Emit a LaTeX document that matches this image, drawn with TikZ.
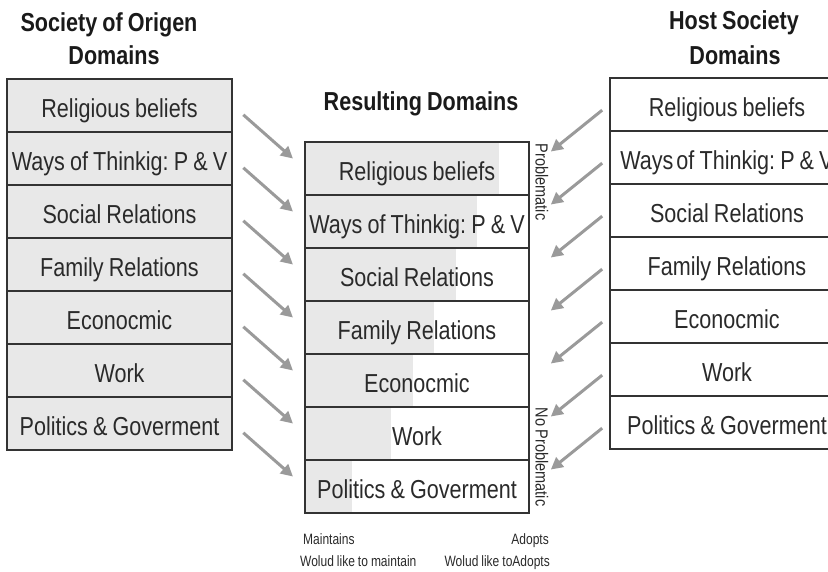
\documentclass[tikz,border=0pt]{standalone}
\usepackage{fontspec}
\setmainfont{Liberation Sans}
\newfontfamily\cond[FakeStretch=0.83,WordSpace=0.85]{Liberation Sans}
\newfontfamily\condsmall[FakeStretch=0.8,WordSpace=0.9]{Liberation Sans}
\usetikzlibrary{arrows.meta,backgrounds}
\definecolor{linec}{HTML}{333333}
\definecolor{textc}{HTML}{2A2A2A}
\definecolor{gfill}{HTML}{E8E8E8}
\definecolor{arrowc}{HTML}{9A9A9A}
\definecolor{titlec}{HTML}{1A1A1A}
\begin{document}
\frenchspacing
\begin{tikzpicture}[x=1pt,y=-1pt,
  box/.style={draw=linec, line width=1.6pt, minimum height=53pt, inner sep=0pt,
    text height=26pt, text depth=1.5pt,
    font=\cond\fontsize{26}{30}\selectfont, text=textc},
  leftbox/.style={box, fill=gfill, minimum width=225pt},
  midbox/.style={box, minimum width=224pt},
  rightbox/.style={box, fill=white, minimum width=234pt},
  flow/.style={draw=arrowc, line width=3pt, -{Triangle[length=12pt,width=12pt]}},
  title/.style={font=\cond\bfseries\fontsize{26}{30}\selectfont, text=titlec, anchor=base, inner sep=0pt},
  side/.style={font=\cond\fontsize{17.5}{20}\selectfont, text=textc, inner sep=0pt},
  smalltext/.style={font=\condsmall\fontsize{15}{17}\selectfont, text=textc, inner sep=0pt}]
\useasboundingbox (0,0) rectangle (828,571);
\clip (0,0) rectangle (828,571);

\foreach \i/\t/\u in {1/{Religious beliefs}/{Religious beliefs},
    2/{Ways of Thinkig: P \& V}/{Ways\kern3pt of Thinkig: P \& V},
    3/{Social Relations}/{Social Relations},
    4/{Family Relations}/{Family Relations},
    5/{Econocmic}/{Econocmic},
    6/{Work}/{Work},
    7/{Politics \& Goverment}/{Politics \& Goverment}} {
  \node[leftbox] (L\i) at (119.5, {79+53*(\i-0.5)}) {\t};
  \node[midbox] (M\i) at (417, {142+53*(\i-0.5)}) {\t};
  \node[rightbox] (R\i) at (727, {78+53*(\i-0.5)}) {\u};
}

\begin{scope}[on background layer]
  \foreach \i/\w in {1/195,2/173,3/152,4/130,5/109,6/87,7/48} {
    \fill[gfill] (M\i.north west) rectangle ([xshift=\w pt]M\i.south west);
  }
\end{scope}

\foreach \i in {1,...,7} {
  \draw[flow, shorten <=14pt, shorten >=15pt] (L\i.east) -- (M\i.west);
  \draw[flow, shorten <=9pt, shorten >=27pt] (R\i.west) -- (M\i.east);
}

\node[title] (t1) at (109,31) {Society of Origen};
\node[title] (t2) at (114,64) {Domains};
\node[title] (t3) at (734,29) {Host Society};
\node[title] (t4) at (735,64) {Domains};
\node[title] (t5) at (421,110) {Resulting Domains};

\node[side, rotate=-90] (prob) at (542,182) {Problematic};
\node[side, rotate=-90] (noprob) at (542,457) {No Problematic};

\node[smalltext, anchor=base west] (maint) at (303,544) {Maintains};
\node[smalltext, anchor=base west] (wmaint) at (300,566) {Wolud like to maintain};
\node[smalltext, anchor=base east] (adopt) at (549,544) {Adopts};
\node[smalltext, anchor=base east] (wadopt) at (550,566) {Wolud like toAdopts};
\end{tikzpicture}
\end{document}
